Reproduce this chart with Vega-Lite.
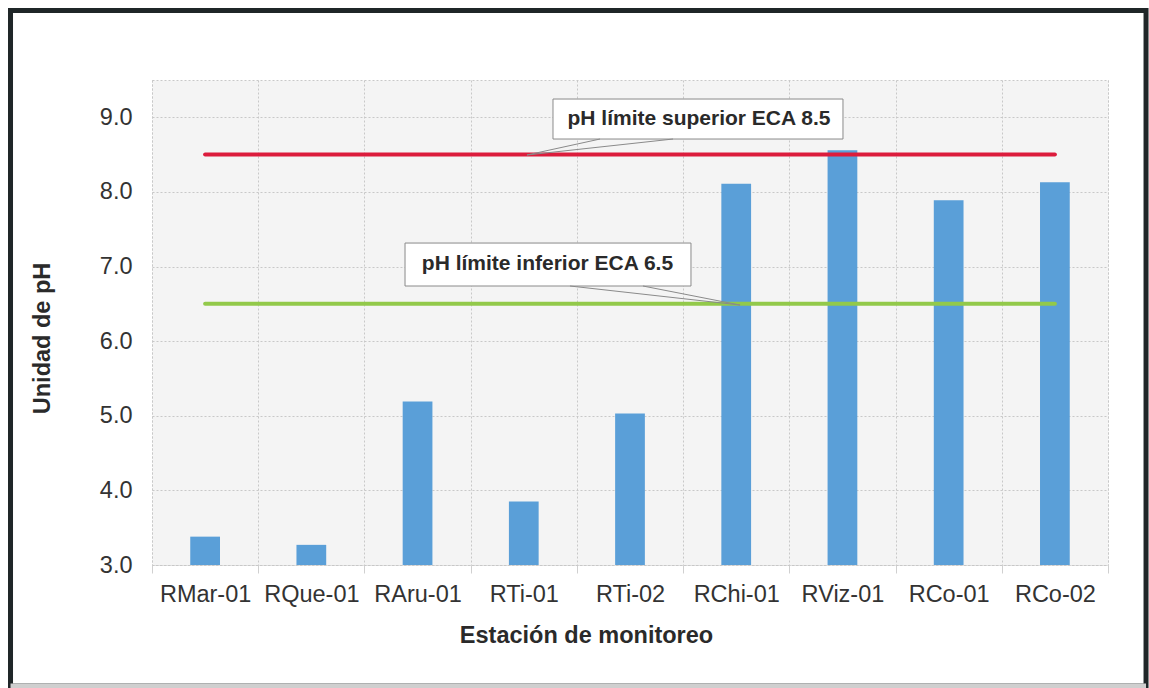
{
  "$schema": "https://vega.github.io/schema/vega-lite/v6.json",
  "width": 956,
  "height": 485,
  "autosize": {"type": "none"},
  "padding": {"left": 152, "top": 80, "right": 41, "bottom": 123},
  "background": "white",
  "config": {
    "font": "Liberation Sans",
    "view": {"stroke": "#c8c8c8", "strokeDash": [2, 2], "fill": "#f4f4f4"}
  },
  "datasets": {
    "ph": [
      {"station": "RMar-01", "pH": 3.38},
      {"station": "RQue-01", "pH": 3.27},
      {"station": "RAru-01", "pH": 5.19},
      {"station": "RTi-01", "pH": 3.85},
      {"station": "RTi-02", "pH": 5.03},
      {"station": "RChi-01", "pH": 8.11},
      {"station": "RViz-01", "pH": 8.56},
      {"station": "RCo-01", "pH": 7.89},
      {"station": "RCo-02", "pH": 8.13}
    ],
    "boxes": [
      {"x1": 3.775, "x2": 6.505, "y1": 8.709, "y2": 9.245, "tx": 5.149, "ty": 8.977, "label": "pH límite superior ECA 8.5"},
      {"x1": 2.382, "x2": 5.074, "y1": 6.739, "y2": 7.315, "tx": 3.723, "ty": 7.034, "label": "pH límite inferior ECA 6.5"}
    ],
    "wedges": [
      {"id": "sup", "o": 1, "px": 4.218, "py": 8.709},
      {"id": "sup", "o": 2, "px": 3.530, "py": 8.495},
      {"id": "sup", "o": 3, "px": 4.905, "py": 8.709},
      {"id": "inf", "o": 1, "px": 3.935, "py": 6.739},
      {"id": "inf", "o": 2, "px": 5.536, "py": 6.484},
      {"id": "inf", "o": 3, "px": 4.622, "py": 6.739}
    ],
    "frame": [
      {"x1": -1.332, "x2": 9.358, "y1": 1.378, "y2": 10.431}
    ]
  },
  "resolve": {"scale": {"x": "independent", "y": "independent"}},
  "layer": [
    {
      "data": {"name": "ph"},
      "layer": [
        {
          "mark": {"type": "bar", "color": "#5a9fd8", "width": {"band": 0.28}},
          "encoding": {
            "x": {
              "field": "station", "type": "nominal", "sort": null,
              "scale": {"paddingInner": 0, "paddingOuter": 0},
              "axis": {
                "title": "Estación de monitoreo",
                "labelAngle": 0,
                "tickBand": "extent",
                "grid": true, "gridColor": "#c8c8c8", "gridDash": [2, 2],
                "domainColor": "#c8c8c8", "domainDash": [2, 2],
                "tickColor": "#d0d0d0", "tickSize": 8,
                "labelFont": "Liberation Sans", "labelFontSize": 23.5, "labelColor": "#333333", "labelPadding": 9,
                "titleFont": "Liberation Sans", "titleFontSize": 23.5, "titleFontWeight": "bold", "titleColor": "#2a2a2a",
                "titleX": 434, "titleY": 58, "titleBaseline": "top", "titleAlign": "center"
              }
            },
            "y": {
              "field": "pH", "type": "quantitative",
              "scale": {"domain": [3, 9.5], "nice": false, "zero": false},
              "axis": {
                "title": "Unidad de pH",
                "values": [3, 4, 5, 6, 7, 8, 9],
                "format": ".1f",
                "grid": true, "gridColor": "#c8c8c8", "gridDash": [2, 2],
                "domain": false, "ticks": false,
                "labelFont": "Liberation Sans", "labelFontSize": 23.5, "labelColor": "#333333", "labelPadding": 20,
                "titleFont": "Liberation Sans", "titleFontSize": 23.5, "titleFontWeight": "bold", "titleColor": "#2a2a2a",
                "titleX": -110, "titleY": 258, "titleBaseline": "middle", "titleAlign": "center", "titleAngle": 270
              }
            },
            "y2": {"datum": 3}
          }
        },
        {
          "mark": {"type": "line", "color": "#dc1c3c", "strokeWidth": 4, "strokeCap": "round"},
          "encoding": {
            "x": {"field": "station", "type": "nominal", "sort": null},
            "y": {"datum": 8.5, "type": "quantitative"}
          }
        },
        {
          "mark": {"type": "line", "color": "#92c94a", "strokeWidth": 4, "strokeCap": "round"},
          "encoding": {
            "x": {"field": "station", "type": "nominal", "sort": null},
            "y": {"datum": 6.5, "type": "quantitative"}
          }
        }
      ]
    },
    {
      "layer": [
        {
          "data": {"name": "frame"},
          "mark": {"type": "rect", "fill": "transparent", "stroke": "#1f2628", "strokeWidth": 5},
          "encoding": {
            "x": {"field": "x1", "type": "quantitative", "scale": {"domain": [0, 9], "nice": false, "zero": false}, "axis": null},
            "x2": {"field": "x2"},
            "y": {"field": "y1", "type": "quantitative", "scale": {"domain": [3, 9.5], "nice": false, "zero": false}, "axis": null},
            "y2": {"field": "y2"}
          }
        },
        {
          "data": {"name": "frame"},
          "mark": {"type": "rule", "stroke": "#cfcfcf", "strokeWidth": 5},
          "encoding": {
            "x": {"field": "x1", "type": "quantitative", "axis": null},
            "x2": {"field": "x2"},
            "y": {"field": "y1", "type": "quantitative", "axis": null}
          }
        },
        {
          "data": {"name": "boxes"},
          "mark": {"type": "rect", "fill": "white", "stroke": "#8a8a8a", "strokeWidth": 1},
          "encoding": {
            "x": {"field": "x1", "type": "quantitative", "axis": null},
            "x2": {"field": "x2"},
            "y": {"field": "y1", "type": "quantitative", "axis": null},
            "y2": {"field": "y2"}
          }
        },
        {
          "data": {"name": "wedges"},
          "mark": {"type": "line", "color": "#8a8a8a", "strokeWidth": 1},
          "encoding": {
            "x": {"field": "px", "type": "quantitative", "axis": null},
            "y": {"field": "py", "type": "quantitative", "axis": null},
            "detail": {"field": "id"},
            "order": {"field": "o", "type": "quantitative"}
          }
        },
        {
          "data": {"name": "boxes"},
          "mark": {"type": "text", "font": "Liberation Sans", "fontSize": 21, "fontWeight": "bold", "color": "#2a2a2a", "align": "center", "baseline": "middle"},
          "encoding": {
            "x": {"field": "tx", "type": "quantitative", "axis": null},
            "y": {"field": "ty", "type": "quantitative", "axis": null},
            "text": {"field": "label"}
          }
        }
      ]
    }
  ]
}
